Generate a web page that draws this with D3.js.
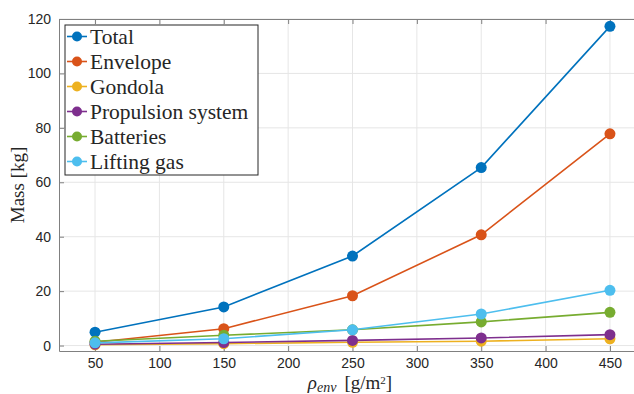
<!DOCTYPE html>
<html>
<head>
<meta charset="utf-8">
<script src="https://cdn.jsdelivr.net/npm/d3@7"></script>
<style>
  body { margin: 0; background: #fff; }
  svg { display: block; }
</style>
</head>
<body>
<svg id="chart" width="634" height="394"></svg>
<script>
// densities (x) and component masses in kg
const density = [50, 150, 250, 350, 450];
const total = [4.9, 14.2, 32.9, 65.4, 117.3];
const envelope = [1.2, 6.2, 18.3, 40.7, 77.8];
const gondola = [0.3, 0.7, 1.2, 1.6, 2.5];
const propulsion = [0.5, 1.1, 1.9, 2.8, 4.0];
const batteries = [1.6, 3.8, 5.8, 8.7, 12.2];
const liftingGas = [1.0, 2.5, 5.8, 11.6, 20.3];
const seriesNames = ['Total', 'Envelope', 'Gondola', 'Propulsion system', 'Batteries', 'Lifting gas'];
const seriesColors = ['#0072BD', '#D95319', '#EDB120', '#7E2F8E', '#77AC30', '#4DBEEE'];
const xTicks = [50, 100, 150, 200, 250, 300, 350, 400, 450];
const yTicks = [0, 20, 40, 60, 80, 100, 120];

const series = [total, envelope, gondola, propulsion, batteries, liftingGas].map((vals, i) => ({
  name: seriesNames[i],
  color: seriesColors[i],
  points: vals.map((v, j) => ({ x: density[j], y: v }))
}));

const svg = d3.select('#chart');
const plotLeft = 59, plotTop = 19, plotRight = 646, plotBottom = 351;

const x = d3.scaleLinear().domain([22, 478]).range([plotLeft, plotRight]);
const y = d3.scaleLinear().domain([-2, 120]).range([plotBottom, plotTop]);

const axisColor = '#808080';
const textColor = '#262626';
const serif = '"Liberation Serif", "Times New Roman", serif';

// grid
const grid = svg.append('g');
grid.selectAll('.gx').data(xTicks).join('line')
  .attr('x1', d => x(d)).attr('x2', d => x(d))
  .attr('y1', plotTop).attr('y2', plotBottom)
  .attr('stroke', '#e6e6e6').attr('stroke-width', 1);
grid.selectAll('.gy').data(yTicks).join('line')
  .attr('x1', plotLeft).attr('x2', plotRight)
  .attr('y1', d => y(d)).attr('y2', d => y(d))
  .attr('stroke', '#e6e6e6').attr('stroke-width', 1);

// axes
const xAxis = d3.axisBottom(x).tickValues(xTicks).tickSizeInner(-5).tickSizeOuter(0).tickPadding(7);
const yAxis = d3.axisLeft(y).tickValues(yTicks).tickSizeInner(-5).tickSizeOuter(0).tickPadding(8);

const gx = svg.append('g').attr('transform', `translate(0,${plotBottom})`).call(xAxis);
const gy = svg.append('g').attr('transform', `translate(${plotLeft},0)`).call(yAxis);
const gxTop = svg.append('g').attr('transform', `translate(0,${plotTop})`)
  .call(d3.axisTop(x).tickValues(xTicks).tickSizeInner(-5).tickSizeOuter(0).tickFormat(''));

[gx, gy, gxTop].forEach(g => {
  g.select('.domain').attr('stroke', axisColor);
  g.selectAll('.tick line').attr('stroke', axisColor);
  g.selectAll('.tick text')
    .attr('fill', textColor)
    .style('font-family', '"Liberation Sans", Arial, sans-serif')
    .style('font-size', '14px');
});

// lines and markers
const line = d3.line().x(d => x(d.x)).y(d => y(d.y));
series.forEach(s => {
  const g = svg.append('g');
  g.append('path')
    .datum(s.points)
    .attr('d', line)
    .attr('fill', 'none')
    .attr('stroke', s.color)
    .attr('stroke-width', 1.6);
  g.selectAll('circle').data(s.points).join('circle')
    .attr('cx', d => x(d.x)).attr('cy', d => y(d.y))
    .attr('r', 5.5)
    .attr('fill', s.color);
});

// legend
const legend = svg.append('g').attr('transform', 'translate(65,25)');
legend.append('rect')
  .attr('width', 193).attr('height', 150)
  .attr('fill', '#fff').attr('stroke', '#262626').attr('stroke-width', 1);
series.forEach((s, i) => {
  const cy = 11.5 + i * 25;
  const row = legend.append('g').attr('transform', `translate(0,${cy})`);
  row.append('line').attr('x1', 2).attr('x2', 22).attr('y1', 0).attr('y2', 0)
    .attr('stroke', s.color).attr('stroke-width', 1.6);
  row.append('circle').attr('cx', 12).attr('cy', 0).attr('r', 5).attr('fill', s.color);
  row.append('text').attr('x', 25).attr('y', 7)
    .attr('fill', textColor)
    .style('font-family', serif)
    .style('font-size', '21.5px')
    .text(s.name);
});

// axis labels
svg.append('text')
  .attr('transform', `translate(24,${(plotTop + plotBottom) / 2}) rotate(-90)`)
  .attr('text-anchor', 'middle')
  .attr('fill', textColor)
  .style('font-family', serif)
  .style('font-size', '19px')
  .text('Mass [kg]');

const xl = svg.append('text')
  .attr('x', 350).attr('y', 389)
  .attr('text-anchor', 'middle')
  .attr('fill', textColor)
  .style('font-family', serif)
  .style('font-size', '19px');
xl.append('tspan').style('font-style', 'italic').text('ρ');
xl.append('tspan').attr('dy', 3).style('font-style', 'italic').style('font-size', '14px').text('env');
xl.append('tspan').attr('dy', -3).attr('dx', 8).text('[g/m');
xl.append('tspan').attr('dy', -5).style('font-size', '11px').text('2');
xl.append('tspan').attr('dy', 5).text(']');
</script>
</body>
</html>
